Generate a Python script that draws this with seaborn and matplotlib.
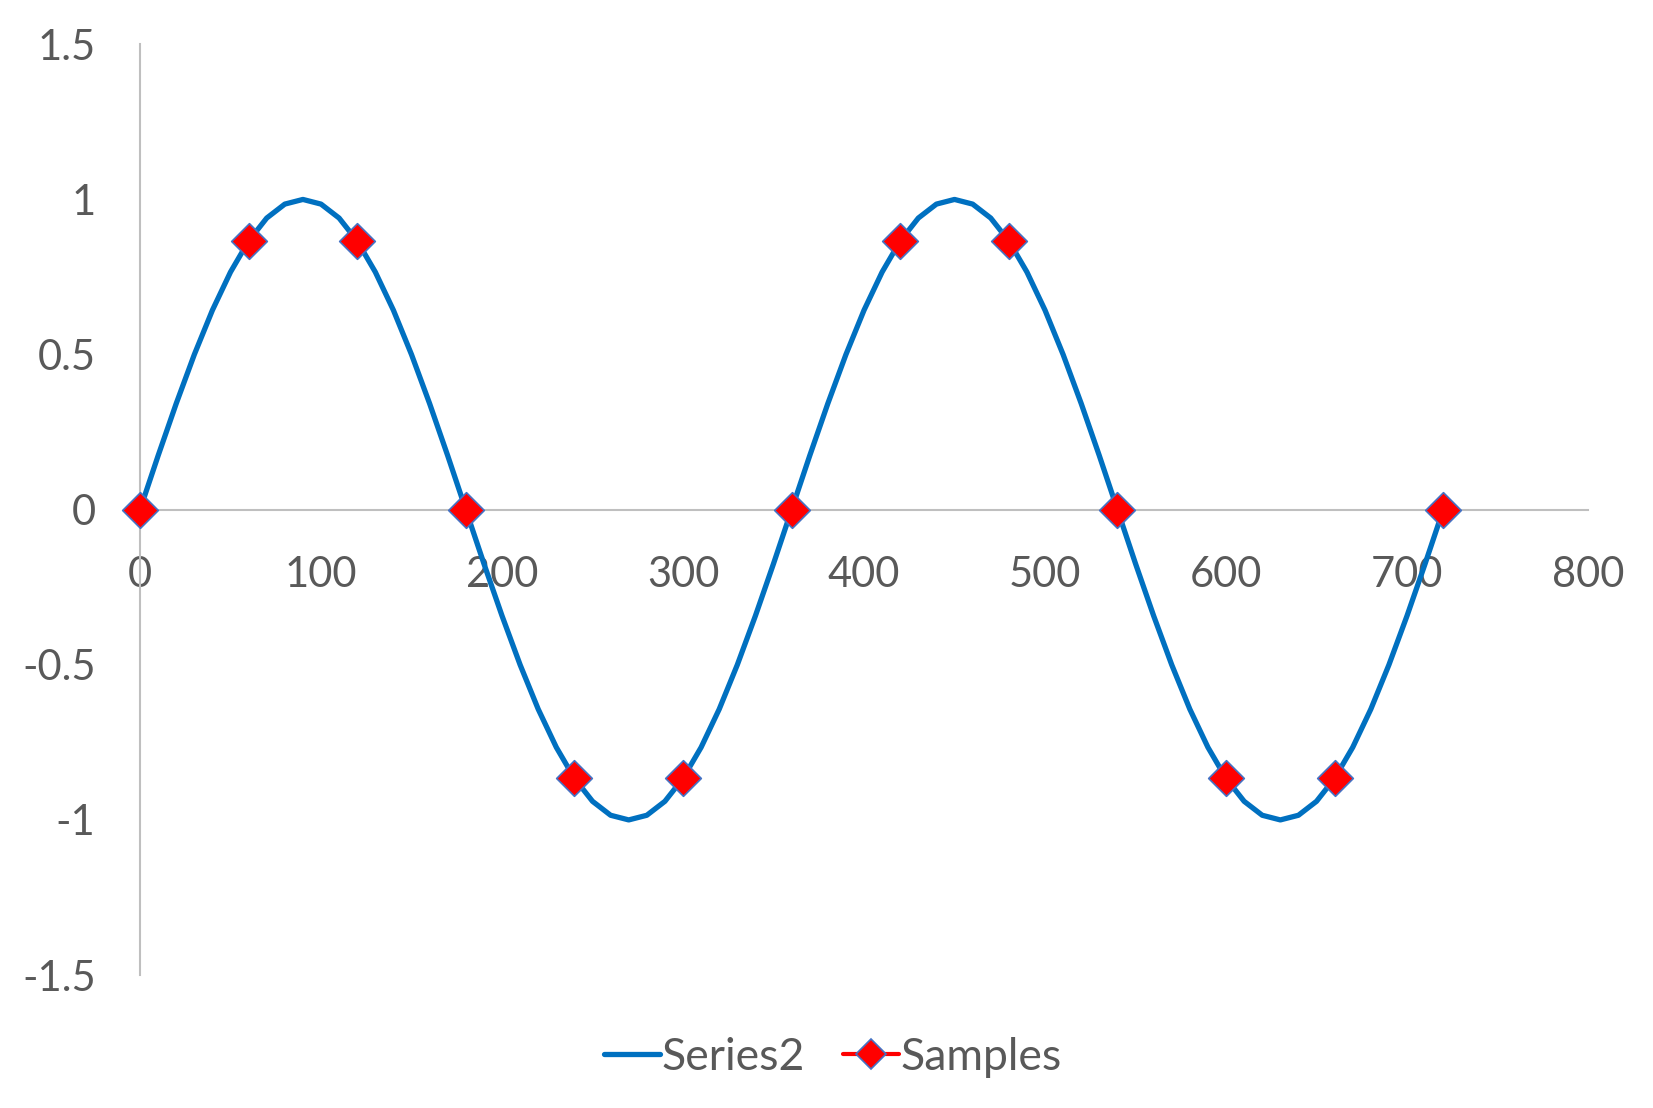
import matplotlib
matplotlib.use("Agg")
import matplotlib.pyplot as plt
from matplotlib.lines import Line2D
import seaborn as sns
import pandas as pd

# Curve: angle in degrees vs. sine value
angle_deg = list(range(0, 730, 10))
series2 = [
    0.000, 0.174, 0.342, 0.500, 0.643, 0.766, 0.866, 0.940, 0.985, 1.000,
    0.985, 0.940, 0.866, 0.766, 0.643, 0.500, 0.342, 0.174, 0.000,
    -0.174, -0.342, -0.500, -0.643, -0.766, -0.866, -0.940, -0.985, -1.000,
    -0.985, -0.940, -0.866, -0.766, -0.643, -0.500, -0.342, -0.174, 0.000,
    0.174, 0.342, 0.500, 0.643, 0.766, 0.866, 0.940, 0.985, 1.000,
    0.985, 0.940, 0.866, 0.766, 0.643, 0.500, 0.342, 0.174, 0.000,
    -0.174, -0.342, -0.500, -0.643, -0.766, -0.866, -0.940, -0.985, -1.000,
    -0.985, -0.940, -0.866, -0.766, -0.643, -0.500, -0.342, -0.174, 0.000,
]

# Sample points every 60 degrees
sample_deg = [0, 60, 120, 180, 240, 300, 360, 420, 480, 540, 600, 660, 720]
samples = [0.000, 0.866, 0.866, 0.000, -0.866, -0.866, 0.000,
           0.866, 0.866, 0.000, -0.866, -0.866, 0.000]

x_ticks = [0, 100, 200, 300, 400, 500, 600, 700, 800]
y_ticks = [-1.5, -1, -0.5, 0, 0.5, 1, 1.5]
y_tick_labels = ["-1.5", "-1", "-0.5", "0", "0.5", "1", "1.5"]

sns.set_theme(style="white")
plt.rcParams["font.family"] = ["Lato", "DejaVu Sans"]

BLUE = "#0070C0"
RED = "#FF0000"
EDGE = "#4472C4"
TEXT = "#595959"
AXIS = "#BFBFBF"

fig = plt.figure(figsize=(16.53, 11.08), dpi=100)
ax = fig.add_axes([0.0847, 0.120, 0.876, 0.840])

curve = pd.DataFrame({"angle": angle_deg, "value": series2})
pts = pd.DataFrame({"angle": sample_deg, "value": samples})

sns.lineplot(data=curve, x="angle", y="value", ax=ax, color=BLUE,
             linewidth=3.8, sort=False, zorder=2)
sns.scatterplot(data=pts, x="angle", y="value", ax=ax, marker="D",
                s=330, color=RED, edgecolor=EDGE, linewidth=1.2, zorder=3)
for coll in ax.collections:
    coll.set_clip_on(False)

ax.set_xlim(0, 800)
ax.set_ylim(-1.5, 1.5)
ax.set_xticks(x_ticks)
ax.set_yticks(y_ticks)
ax.set_yticklabels(y_tick_labels)
ax.set_xlabel("")
ax.set_ylabel("")

for side in ("top", "right"):
    ax.spines[side].set_visible(False)
ax.spines["left"].set_color(AXIS)
ax.spines["left"].set_linewidth(1.5)
ax.spines["bottom"].set_color(AXIS)
ax.spines["bottom"].set_linewidth(1.5)
ax.spines["bottom"].set_position(("data", 0))

ax.tick_params(axis="x", length=0, pad=33, labelsize=30, labelcolor=TEXT)
ax.tick_params(axis="y", length=0, pad=32, labelsize=30, labelcolor=TEXT)
ax.set_facecolor("white")

handles = [
    Line2D([0], [0], color=BLUE, linewidth=3.8),
    Line2D([0], [0], color=RED, linewidth=3, marker="D", markersize=15,
           markerfacecolor=RED, markeredgecolor=EDGE, markeredgewidth=1.2),
]
fig.legend(handles, ["Series2", "Samples"], loc="center",
           bbox_to_anchor=(0.504, 0.046), ncol=2, frameon=False,
           fontsize=32, handlelength=1.25, handletextpad=0.05,
           columnspacing=0.85, labelcolor=TEXT)

fig.savefig("out.png", dpi=100, facecolor="white")
